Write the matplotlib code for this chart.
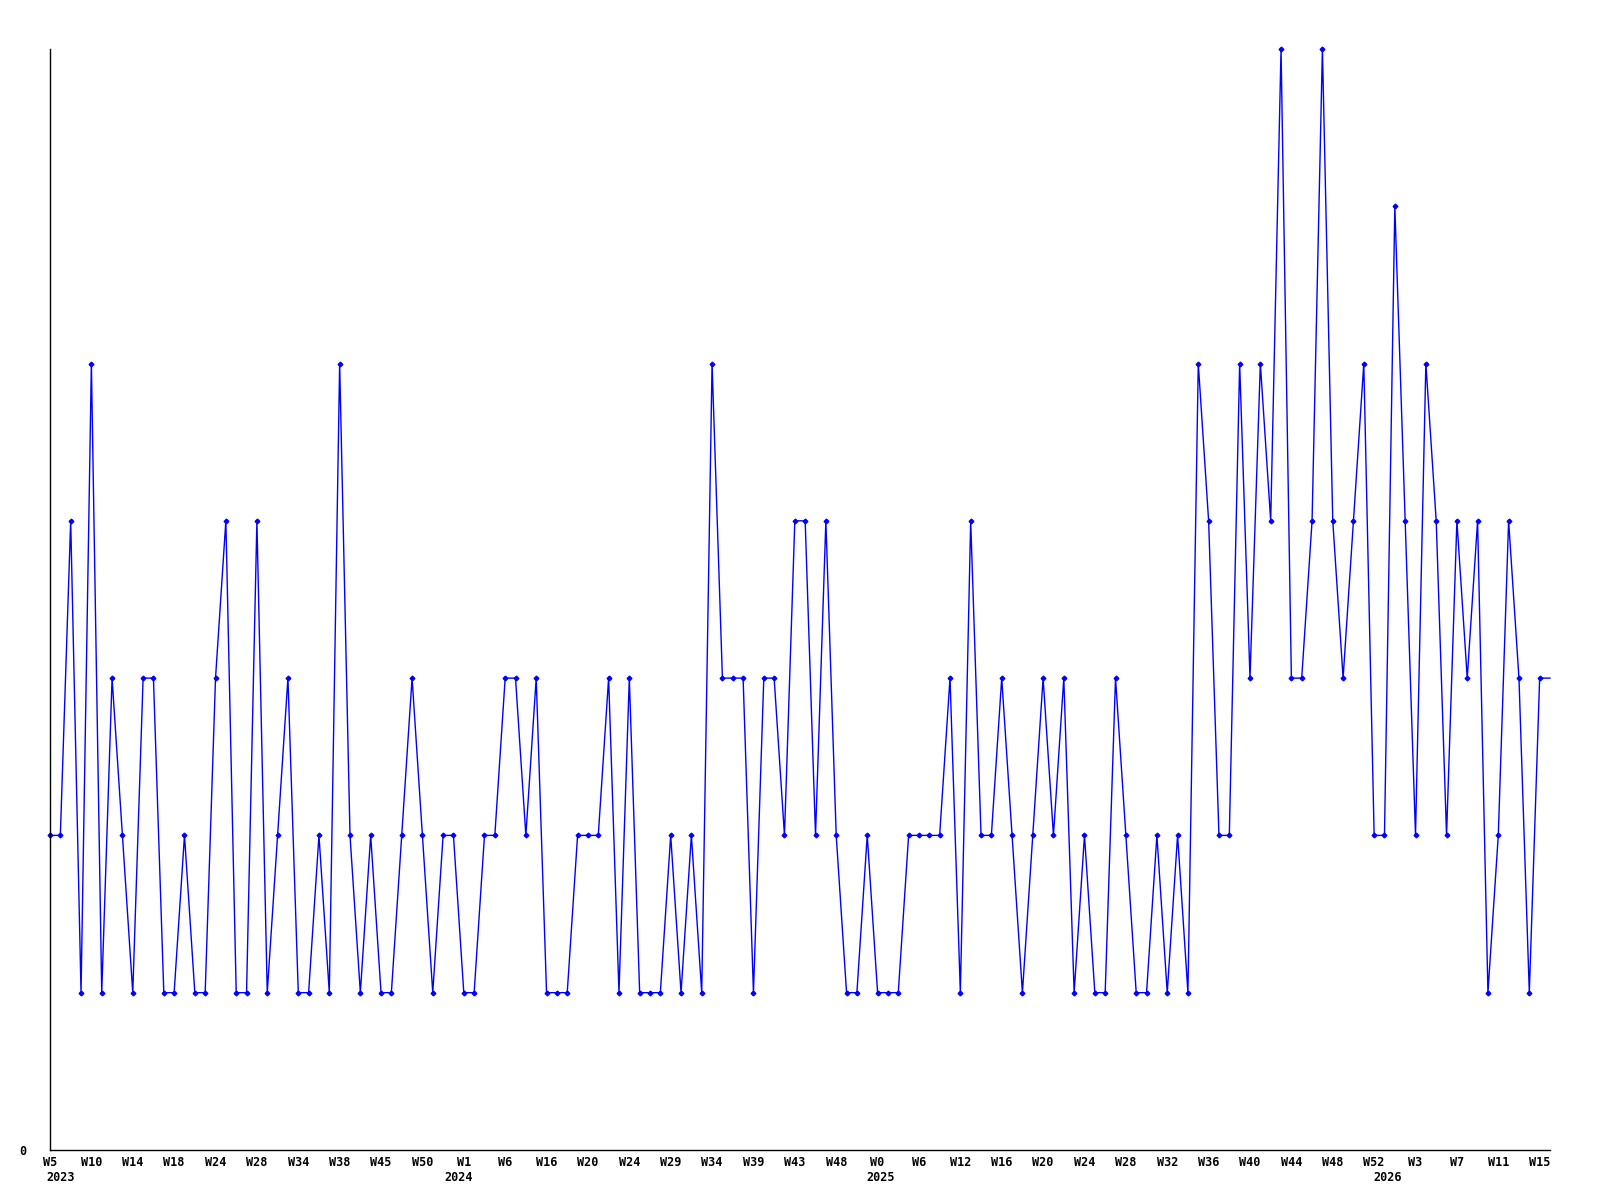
import matplotlib
matplotlib.use("Agg")
import matplotlib.pyplot as plt
import matplotlib.transforms as mtransforms

# weekly values (146 points, W5 2023 .. W16 2026)
values = [
    2, 2, 4, 1, 5, 1, 3, 2, 1, 3, 3, 1, 1, 2, 1, 1, 3, 4, 1,
    1, 4, 1, 2, 3, 1, 1, 2, 1, 5, 2, 1, 2, 1, 1, 2, 3, 2,
    1, 2, 2, 1, 1, 2, 2, 3, 3, 2, 3, 1, 1, 1, 2, 2, 2, 3, 1,
    3, 1, 1, 1, 2, 1, 2, 1, 5, 3, 3, 3, 1, 3, 3, 2, 4, 4,
    2, 4, 2, 1, 1, 2, 1, 1, 1, 2, 2, 2, 2, 3, 1, 4, 2, 2, 3,
    2, 1, 2, 3, 2, 3, 1, 2, 1, 1, 3, 2, 1, 1, 2, 1, 2, 1,
    5, 4, 2, 2, 5, 3, 5, 4, 7, 3, 3, 4, 7, 4, 3, 4, 5, 2,
    2, 6, 4, 2, 5, 4, 2, 4, 3, 4, 1, 2, 4, 3, 1, 3, 3,
]

tick_labels = ["W5", "W10", "W14", "W18", "W24", "W28", "W34", "W38", "W45", "W50",
               "W1", "W6", "W16", "W20", "W24", "W29", "W34", "W39", "W43", "W48",
               "W0", "W6", "W12", "W16", "W20", "W24", "W28", "W32", "W36", "W40",
               "W44", "W48", "W52", "W3", "W7", "W11", "W15"]
tick_step = 4

year_labels = ["2023", "2024", "2025", "2026"]
year_positions = [1.0, 39.5, 80.3, 129.3]

x = list(range(len(values)))

fig = plt.figure(figsize=(16, 12), dpi=100)
ax = fig.add_axes([0.03125, 0.0417, 0.9375, 0.9175])

ax.plot(x, values, color="#0000ff", linewidth=1.0, marker="D", markersize=2.4,
        markevery=list(range(len(values) - 1)), clip_on=False)

ax.set_xlim(0, len(values) - 1)
ax.set_ylim(0, 7)

for s in ("top", "right"):
    ax.spines[s].set_visible(False)
for s in ("left", "bottom"):
    ax.spines[s].set_color("black")
    ax.spines[s].set_linewidth(1.0)

font = dict(family="DejaVu Sans Mono", fontsize=8.5, fontweight="bold")

ax.set_xticks([i * tick_step for i in range(len(tick_labels))])
ax.set_xticklabels(tick_labels, **font)
ax.set_yticks([0])
ax.set_yticklabels(["0"], **font)
ax.tick_params(axis="both", length=0)
ax.tick_params(axis="x", pad=4)
ax.tick_params(axis="y", pad=17)

trans = mtransforms.blended_transform_factory(ax.transData, ax.transAxes)
offset = mtransforms.ScaledTranslation(0, -15 / 72, fig.dpi_scale_trans)
for lab, pos in zip(year_labels, year_positions):
    ax.text(pos, 0, lab, transform=trans + offset, ha="center", va="top", **font)

fig.savefig("out.png", dpi=100)
